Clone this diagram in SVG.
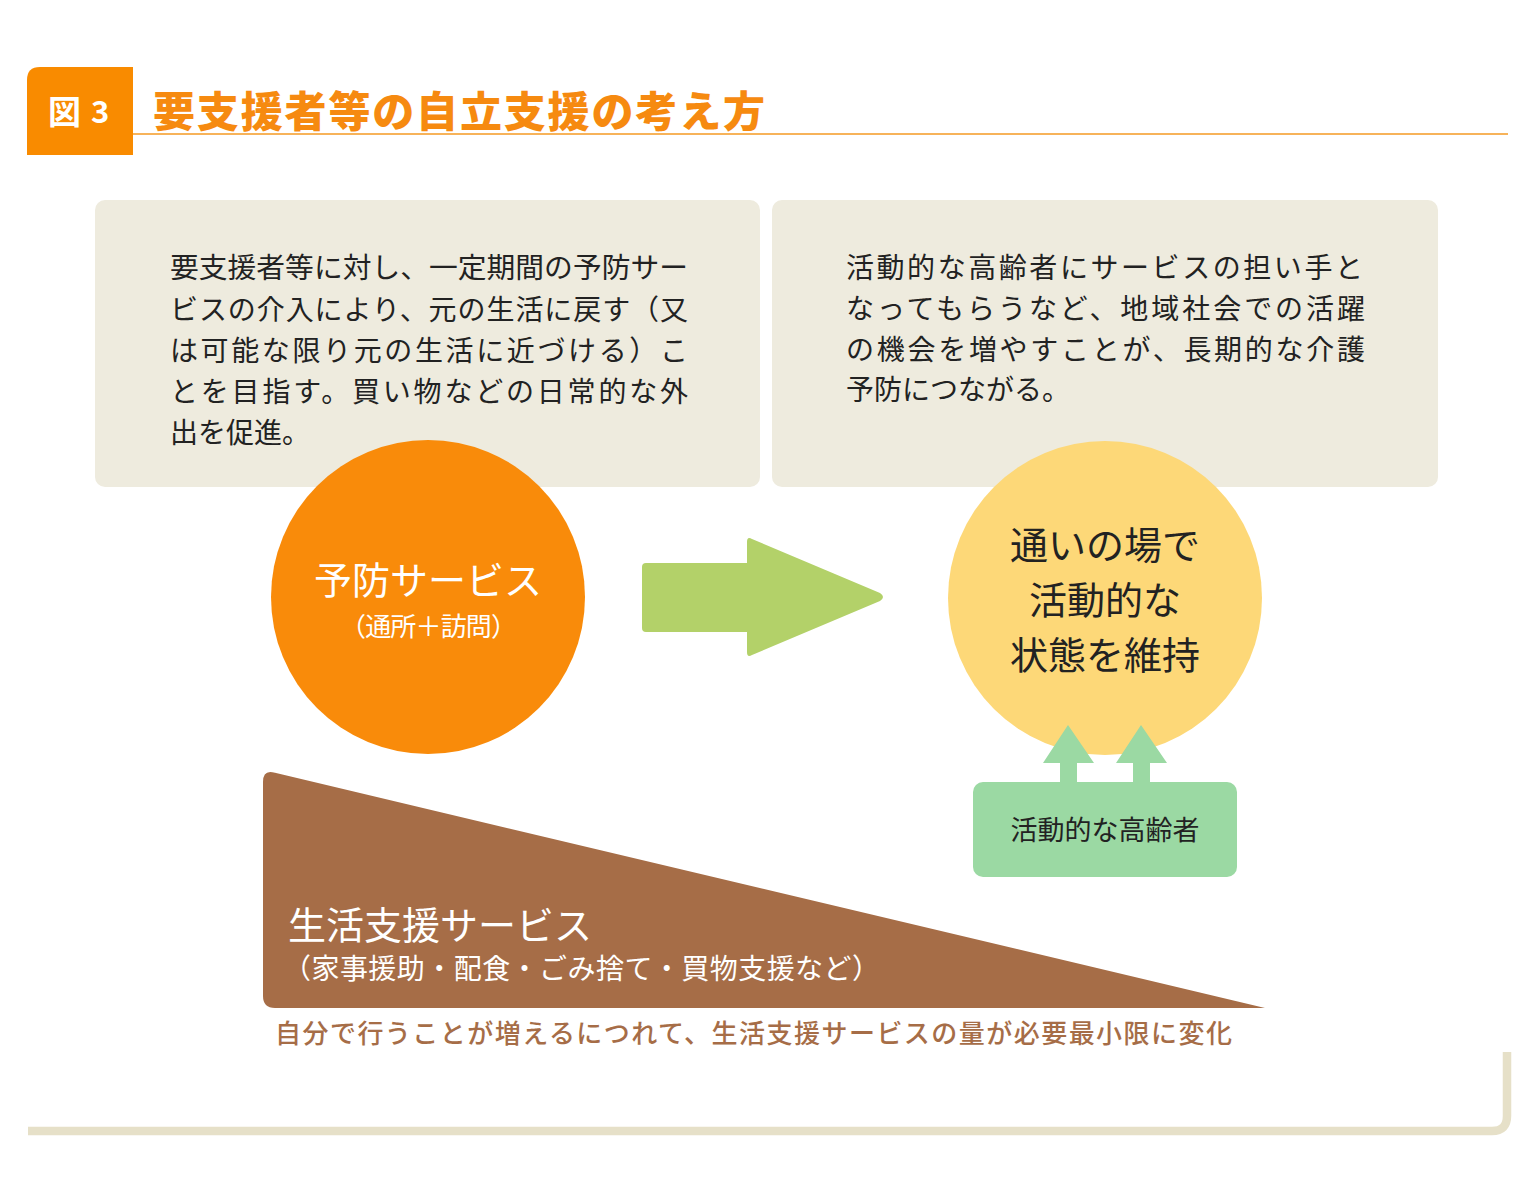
<svg xmlns="http://www.w3.org/2000/svg" width="1536" height="1188" viewBox="0 0 1536 1188">
<style>
text{font-family:"Noto Sans CJK JP","Noto Sans",sans-serif}
.body{font-size:28px;fill:#222}
.big{font-size:38px}
.w{fill:#fff}
.d{fill:#222}
</style>
<rect width="1536" height="1188" fill="#fff"/>
<g id="title">
<path d="M27,80 Q27,67 40,67 L133,67 L133,155 L27,155 Z" fill="#F98B00"/>
<text x="48" y="124" font-size="33" font-weight="700" fill="#fff">図</text>
<text x="91" y="123" font-size="31" font-weight="700" fill="#fff" font-family="Liberation Sans, sans-serif">3</text>
<text x="153" y="127" font-size="42" font-weight="900" fill="#F68A10" textLength="612" lengthAdjust="spacing">要支援者等の自立支援の考え方</text>
<line x1="133" y1="134" x2="1508" y2="134" stroke="#F59A23" stroke-width="1.5"/>
</g>
<g id="box-left">
<rect x="95" y="200" width="665" height="287" rx="10" fill="#EEEBDE"/>
<text class="body" x="170" y="278" textLength="518" lengthAdjust="spacingAndGlyphs">要支援者等に対し、一定期間の予防サー</text>
<text class="body" x="170" y="320" textLength="518" lengthAdjust="spacing">ビスの介入により、元の生活に戻す（又</text>
<text class="body" x="170" y="361" textLength="518" lengthAdjust="spacing">は可能な限り元の生活に近づける）こ</text>
<text class="body" x="170" y="402" textLength="518" lengthAdjust="spacing">とを目指す。買い物などの日常的な外</text>
<text class="body" x="170" y="443">出を促進。</text>
</g>
<g id="box-right">
<rect x="772" y="200" width="666" height="287" rx="10" fill="#EEEBDE"/>
<text class="body" x="846" y="278" textLength="517" lengthAdjust="spacing">活動的な高齢者にサービスの担い手と</text>
<text class="body" x="846" y="319" textLength="519" lengthAdjust="spacing">なってもらうなど、地域社会での活躍</text>
<text class="body" x="846" y="360" textLength="519" lengthAdjust="spacing">の機会を増やすことが、長期的な介護</text>
<text class="body" x="846" y="400">予防につながる。</text>
</g>
<g id="prevention-service">
<circle cx="428" cy="597" r="157" fill="#F98B0A"/>
<text class="big w" x="428" y="594" text-anchor="middle">予防サービス</text>
<text x="340" y="636" font-size="26" fill="#fff" textLength="177" lengthAdjust="spacing">（通所＋訪問）</text>
</g>
<g id="active-state">
<circle cx="1105" cy="598" r="157" fill="#FDD878"/>
<text class="big d" x="1105" y="559" text-anchor="middle">通いの場で</text>
<text class="big d" x="1105" y="614" text-anchor="middle">活動的な</text>
<text class="big d" x="1105" y="669" text-anchor="middle">状態を維持</text>
</g>
<g id="connectors">
<path d="M646,563 L747,563 L747,542 Q747,536 752,539 L880,593 Q886,597 880,601 L752,655 Q747,658 747,652 L747,632 L646,632 Q642,632 642,628 L642,567 Q642,563 646,563 Z" fill="#B3D169"/>
<path d="M1060,782 L1060,763 L1043,763 L1068,725 L1094,763 L1077,763 L1077,782 Z" fill="#9BD9A3"/>
<path d="M1133,782 L1133,763 L1116,763 L1141,725 L1167,763 L1150,763 L1150,782 Z" fill="#9BD9A3"/>
</g>
<g id="active-elderly">
<rect x="973" y="782" width="264" height="95" rx="10" fill="#9BD9A3"/>
<text x="1105" y="840" font-size="27" fill="#222" text-anchor="middle">活動的な高齢者</text>
</g>
<g id="life-support">
<path d="M263,782 Q263,769 275,772.8 L1265,1008 L275,1008 Q263,1008 263,996 Z" fill="#A66D47"/>
<text class="big w" x="288" y="939">生活支援サービス</text>
<text x="283" y="979" font-size="28" fill="#fff" textLength="597" lengthAdjust="spacing">（家事援助・配食・ごみ捨て・買物支援など）</text>
</g>
<g id="caption">
<text x="275" y="1043" font-size="26" font-weight="500" fill="#A66D47" textLength="957" lengthAdjust="spacing">自分で行うことが増えるにつれて、生活支援サービスの量が必要最小限に変化</text>
</g>
<g id="frame">
<path d="M28,1131 L1492,1131 Q1507,1131 1507,1116 L1507,1052" fill="none" stroke="#E6E0C8" stroke-width="8.5"/>
</g>
</svg>
